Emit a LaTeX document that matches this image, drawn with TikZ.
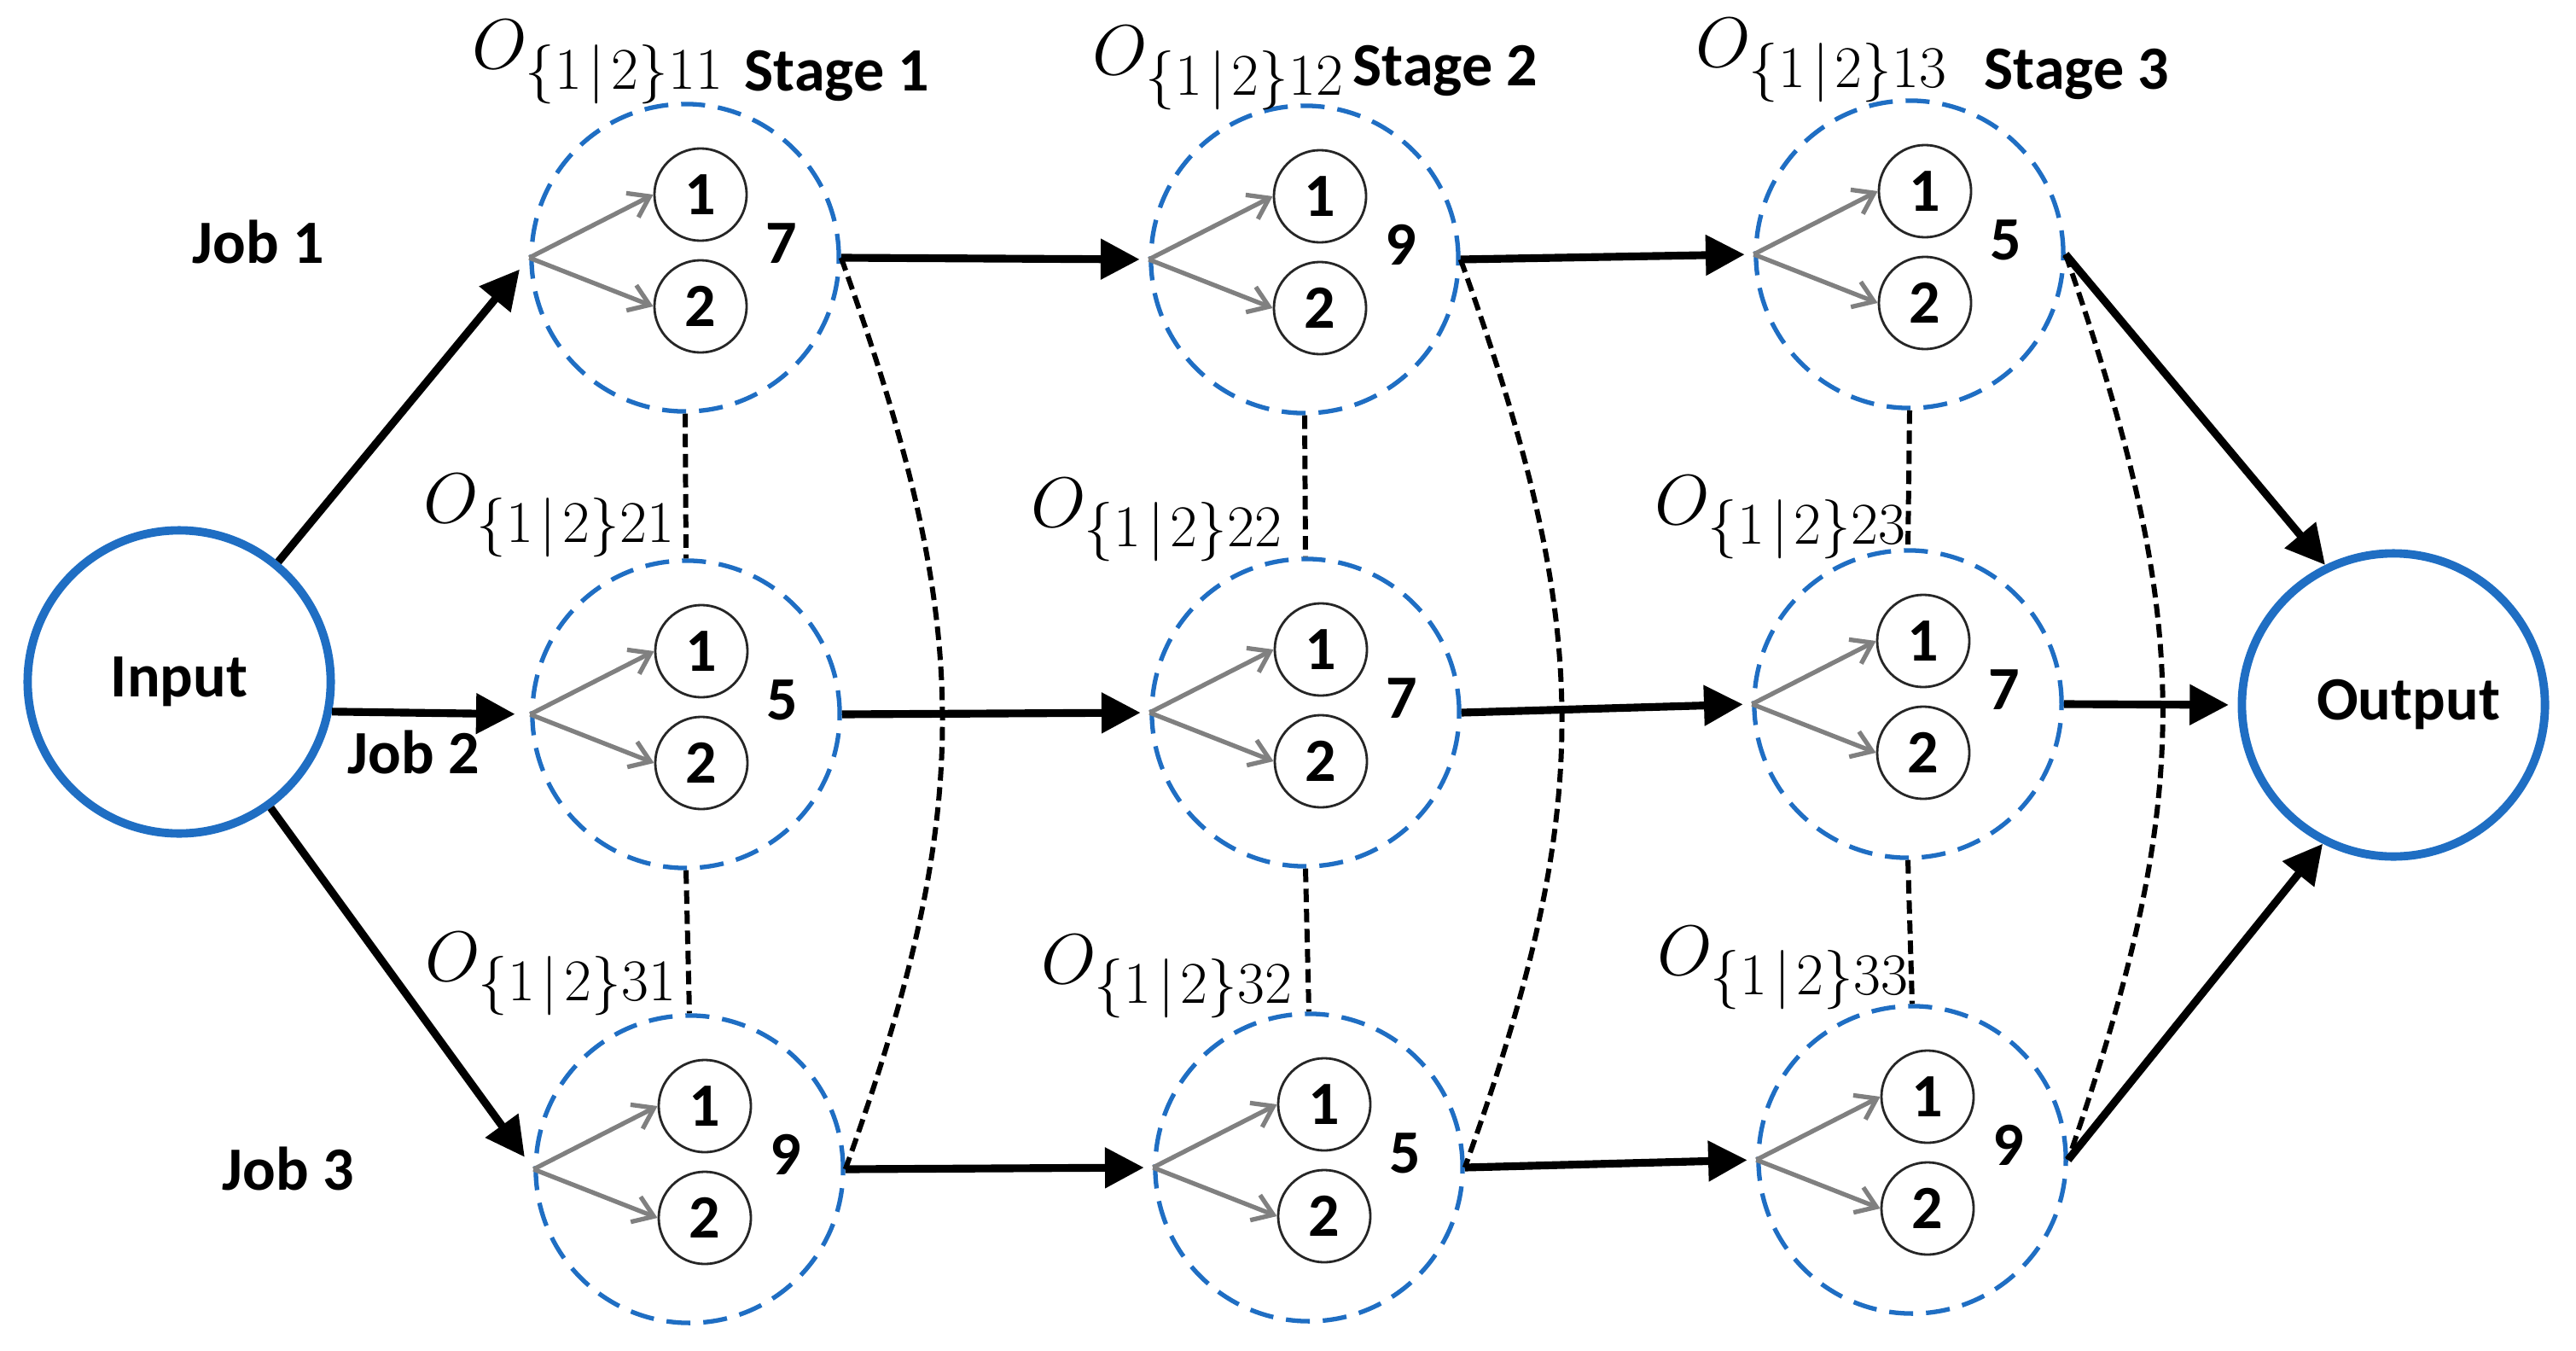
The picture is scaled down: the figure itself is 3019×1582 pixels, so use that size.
\documentclass[tikz,border=0pt]{standalone}
\usepackage{fontspec}
\setmainfont{Carlito}
\usetikzlibrary{arrows.meta}
\definecolor{oblue}{RGB}{31,110,195}
\definecolor{agray}{RGB}{128,128,128}
\newcommand{\stg}[4]{%
  \node[stagebox] (#1) at (#2,#3) {};
  \node[mach] (#1a) at (#2+18,#3-74) {1};
  \node[mach] (#1b) at (#2+18,#3+57) {2};
  \node[numtext] (#1n) at (#2+113,#3-17) {#4};
  \draw[gsplit] (#1.west) -- (#1a.west);
  \draw[gsplit] (#1.west) -- (#1b.west);
}
\newcommand{\opsub}[1]{$O_{\{1\mkern2mu|\mkern2mu2\}#1}$}
\begin{document}
\begin{tikzpicture}[x=0.01cm,y=-0.01cm,
  stagebox/.style={circle,draw=oblue,line width=1.5pt,dash pattern=on 8pt off 4.3pt,minimum size=3.6cm,inner sep=0pt},
  endbox/.style={circle,draw=oblue,line width=2.8pt,minimum size=3.55cm,inner sep=0pt,font=\fontsize{20.5}{24}\selectfont\bfseries},
  mach/.style={circle,draw=black!85,line width=0.8pt,minimum size=1.08cm,inner sep=0pt,font=\fontsize{20.5}{24}\selectfont\bfseries},
  numtext/.style={font=\fontsize{20.5}{24}\selectfont\bfseries,inner sep=0pt},
  lbl/.style={font=\fontsize{20.5}{24}\selectfont\bfseries,inner sep=0pt,anchor=base west},
  oplbl/.style={font=\fontsize{24.88}{30}\selectfont,inner sep=0pt,anchor=base west,scale=0.95},
  bflow/.style={line width=2.6pt,-{Triangle[length=13pt,width=13pt]},shorten >=3pt},
  gsplit/.style={agray,line width=1.5pt,-{Straight Barb[length=6.5pt,width=9pt]}},
  dlink/.style={line width=1.7pt,dash pattern=on 4.5pt off 2.2pt}
]
\useasboundingbox (0,0) rectangle (3019,1582);

% input / output
\node[endbox] (In) at (210,799) {Input};
\node[endbox] (Out) at (2805,826) {\hspace*{10pt}Output};

% stages
\stg{S11}{803}{302}{7}
\stg{S12}{1529}{304}{9}
\stg{S13}{2238}{298}{5}
\stg{S21}{804}{837}{5}
\stg{S22}{1530}{835}{7}
\stg{S23}{2236}{825}{7}
\stg{S31}{808}{1370}{9}
\stg{S32}{1534}{1368}{5}
\stg{S33}{2241}{1359}{9}

% operation labels
\node[oplbl] (o11) at (553,81) {\opsub{11}};
\node[oplbl] (o12) at (1280,88) {\opsub{12}};
\node[oplbl] (o13) at (1987,79) {\opsub{13}};
\node[oplbl] (o21) at (496,612) {\opsub{21}};
\node[oplbl] (o22) at (1208,617) {\opsub{22}};
\node[oplbl] (o23) at (1939,614) {\opsub{23}};
\node[oplbl] (o31) at (498,1149) {\opsub{31}};
\node[oplbl] (o32) at (1220,1152) {\opsub{32}};
\node[oplbl] (o33) at (1942,1142) {\opsub{33}};

% stage and job labels
\node[lbl] (st1) at (872,107) {Stage 1};
\node[lbl] (st2) at (1585,101) {Stage 2};
\node[lbl] (st3) at (2325,105) {Stage 3};
\node[lbl] (j1) at (225,308) {Job 1};
\node[lbl] (j2) at (407,906) {Job 2};
\node[lbl] (j3) at (260,1394) {Job 3};

% flows
\draw[bflow,shorten >=5pt] (In) -- (S11.west);
\draw[bflow,shorten >=5pt] (In.-11) -- (S21.west);
\draw[bflow,shorten >=5pt] (In) -- (S31.west);
\draw[bflow] (S11.east) -- (S12.west);
\draw[bflow] (S12.east) -- (S13.west);
\draw[bflow] (S21.east) -- (S22.west);
\draw[bflow] (S22.east) -- (S23.west);
\draw[bflow] (S31.east) -- (S32.west);
\draw[bflow] (S32.east) -- (S33.west);
\draw[bflow,shorten >=0pt] (S13.east) -- (Out.116);
\draw[bflow] (S23.east) -- (Out.west);
\draw[bflow,shorten >=0pt] (S33.east) -- (Out.-117);

% dashed links
\draw[dlink] (S11.south) -- (S21.north);
\draw[dlink] (S21.south) -- (S31.north);
\draw[dlink] (S12.south) -- (S22.north);
\draw[dlink] (S22.south) -- (S32.north);
\draw[dlink] (S13.south) -- (S23.north);
\draw[dlink] (S23.south) -- (S33.north);
\draw[dlink] (S11.east) .. controls +(155,430) and +(155,-430) .. (S31.east);
\draw[dlink] (S12.east) .. controls +(155,430) and +(155,-430) .. (S32.east);
\draw[dlink] (S13.east) .. controls +(150,430) and +(150,-430) .. (S33.east);
\end{tikzpicture}
\end{document}
